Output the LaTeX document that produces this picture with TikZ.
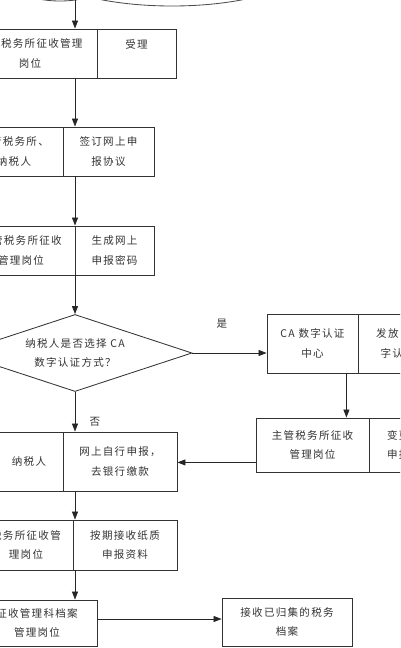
\documentclass[tikz,border=0pt]{standalone}
\usepackage{fontspec}
\newfontfamily\cjk[LetterSpace=12]{Noto Sans CJK SC}
\usetikzlibrary{arrows.meta,shapes.geometric}

\begin{document}
\begin{tikzpicture}[x=0.025cm, y=-0.025cm,
  every node/.style={font=\cjk\fontsize{7.5}{14}\selectfont, text=black!80},
  cell/.style={draw=black!80, line width=0.6pt, inner sep=0pt, align=center},
  flow/.style={-{Triangle[length=2mm,width=1.5mm]}, line width=0.6pt, draw=black!85}]
\useasboundingbox (0,0) rectangle (400,648);
\clip (0,0) rectangle (400,648);

% shapes cut off at the top
\draw[line width=0.6pt, black!70] (60,-12) ellipse [x radius=1cm, y radius=0.325cm];
\draw[line width=0.6pt, black!70] (172,-40) ellipse [x radius=3.5cm, y radius=1.15cm];
\coordinate (spine) at (75,0);

\node[cell, minimum width=3.35cm, minimum height=1.225cm] (b1l) at (30,53.5) {主管税务所征收管理\\岗位};
\node[cell, minimum width=1.975cm, minimum height=1.225cm] (b1r) at (136.5,53.5) {受理\\ \mbox{}};
\node[cell, minimum width=2.45cm, minimum height=1.225cm] (b2l) at (14,151.5) {主管税务所、\\纳税人};
\node[cell, minimum width=2.275cm, minimum height=1.225cm] (b2r) at (108.5,151.5) {签订网上申\\报协议};
\node[cell, minimum width=2.7cm, minimum height=1.225cm] (b3l) at (21,250.5) {主管税务所征收\\管理岗位};
\node[cell, minimum width=1.975cm, minimum height=1.225cm] (b3r) at (114.5,250.5) {生成网上\\申报密码};
\node[cell, diamond, shape aspect=3.1, minimum width=5.85cm, minimum height=1.925cm] (dia) at (75,353) {纳税人是否选择 CA\\数字认证方式？};

\node[cell, minimum width=2.275cm, minimum height=1.475cm] (cal) at (312.5,343.5) {CA 数字认证\\中心};
\node[cell, minimum width=2.275cm, minimum height=1.475cm] (car) at (403.5,343.5) {发放 CA 数\\字认证书};
\node[cell, minimum width=2.825cm, minimum height=1.35cm] (zgl) at (312.5,445) {主管税务所征收\\管理岗位};
\node[cell, minimum width=2.05cm, minimum height=1.35cm] (zgr) at (410,445) {变更网上\\申报方式};

\node[cell, minimum width=1.7cm, minimum height=1.475cm] (b4l) at (29,461.5) {纳税人};
\node[cell, minimum width=2.85cm, minimum height=1.475cm] (b4r) at (120,461.5) {网上自行申报，\\去银行缴款};
\node[cell, minimum width=2.35cm, minimum height=1.25cm] (b5l) at (26,545) {税务所征收管\\理岗位};
\node[cell, minimum width=2.6cm, minimum height=1.25cm] (b5r) at (125,545) {按期接收纸质\\申报资料};
\node[cell, minimum width=3cm, minimum height=1.15cm] (b6) at (37,623) {征收管理科档案\\管理岗位};
\node[cell, minimum width=3.25cm, minimum height=1.2cm] (b7) at (287,622) {接收已归集的税务\\档案};

\draw[flow] (spine) -- (spine |- b1l.north);
\draw[flow] (spine |- b1l.south) -- (spine |- b2r.north);
\draw[flow] (spine |- b2r.south) -- (spine |- b3r.north);
\draw[flow] (spine |- b3r.south) -- (dia.north);
\draw[flow] (dia.south) -- (dia.south |- b4r.north);
\draw[flow] (dia.east) -- (dia.east -| cal.west);
\coordinate (caout) at ([xshift=-0.3cm]cal.south east);
\draw[flow] (caout) -- (caout |- zgl.north);
\coordinate (zgout) at ([yshift=0.25cm]zgl.south west);
\draw[flow] (zgout) -- (zgout -| b4r.east);
\draw[flow] (spine |- b4r.south) -- (spine |- b5r.north);
\draw[flow] (spine |- b5r.south) -- (spine |- b6.north);
\coordinate (arout) at ([yshift=0.1cm]b6.east);
\draw[flow] (arout) -- (arout -| b7.west);

\node (yes) at (222,324) {是};
\node (no) at (95,422) {否};
\end{tikzpicture}
\end{document}
